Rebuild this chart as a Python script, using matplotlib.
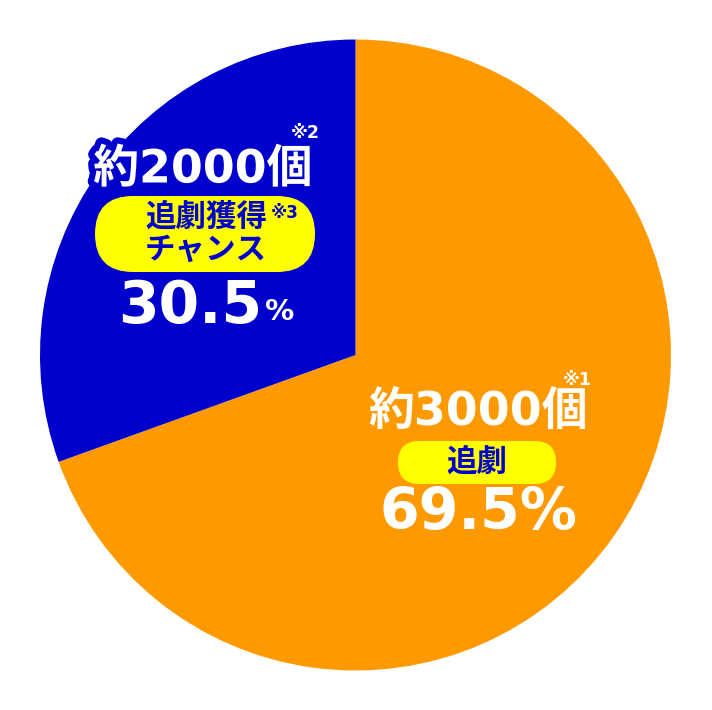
import matplotlib
matplotlib.use("Agg")
import matplotlib.pyplot as plt
from matplotlib.patches import FancyBboxPatch
import matplotlib.patheffects as pe

plt.rcParams['font.family'] = ['DejaVu Sans', 'Noto Sans CJK JP']
CJK = ['Noto Sans CJK JP', 'DejaVu Sans']

labels = ["追劇", "追劇獲得チャンス"]
values = [69.5, 30.5]
counts = ["約3000個", "約2000個"]
notes = ["※1", "※2", "※3"]
colors = ["#FF9900", "#0000CC"]
text_blue = "#0000CC"

W, H = 712, 710
fig = plt.figure(figsize=(W/100, H/100), dpi=100)
ax = fig.add_axes([0, 0, 1, 1])
ax.set_aspect('equal')

cx, cy, r = 355.5, H - 355, 315.5
ax.pie(values, colors=colors, startangle=90, counterclock=False,
       center=(cx, cy), radius=r, frame=True,
       wedgeprops=dict(linewidth=0))
ax.set_xlim(0, W)
ax.set_ylim(0, H)
ax.axis('off')

def Y(y):
    return H - y

def pill(x0, y0, x1, y1):
    h = y1 - y0
    p = FancyBboxPatch((x0, Y(y1)), (x1 - x0), h,
                       boxstyle=f"round,pad=0,rounding_size={h/2}",
                       facecolor="#FFFF00", edgecolor="none", zorder=3)
    ax.add_patch(p)

blue_stroke = [pe.withStroke(linewidth=9, foreground=colors[1])]

# Blue slice texts
ax.text(203, Y(170), counts[1], color="white", fontsize=33, fontweight="bold",
        ha="center", va="center", zorder=5, path_effects=blue_stroke)
ax.text(305, Y(133), notes[1], color="white", fontsize=12.5, fontweight="bold",
        ha="center", va="center", zorder=5)
pill(95, 196, 315, 272)
ax.text(206, Y(217), "追劇獲得", color=text_blue, fontsize=22, fontweight="bold",
        ha="center", va="center", zorder=5, family=CJK)
ax.text(285, Y(213), notes[2], color=text_blue, fontsize=12, fontweight="bold",
        ha="center", va="center", zorder=5)
ax.text(206, Y(250), "チャンス", color=text_blue, fontsize=22, fontweight="bold",
        ha="center", va="center", zorder=5, family=CJK)
ax.text(262, Y(306), f"{values[1]}", color="white", fontsize=42, fontweight="bold",
        ha="right", va="center", zorder=5)
ax.text(265, Y(312), "%", color="white", fontsize=21, fontweight="bold",
        ha="left", va="center", zorder=5)

# Orange slice texts
ax.text(478, Y(412), counts[0], color="white", fontsize=33, fontweight="bold",
        ha="center", va="center", zorder=5)
ax.text(577, Y(380), notes[0], color="white", fontsize=12.5, fontweight="bold",
        ha="center", va="center", zorder=5)
pill(398, 441, 556, 484)
ax.text(477, Y(462), labels[0], color=text_blue, fontsize=22, fontweight="bold",
        ha="center", va="center", zorder=5, family=CJK)
ax.text(478, Y(514), f"{values[0]}%", color="white", fontsize=41, fontweight="bold",
        ha="center", va="center", zorder=5)

fig.savefig("out.png", dpi=100, facecolor="white")
